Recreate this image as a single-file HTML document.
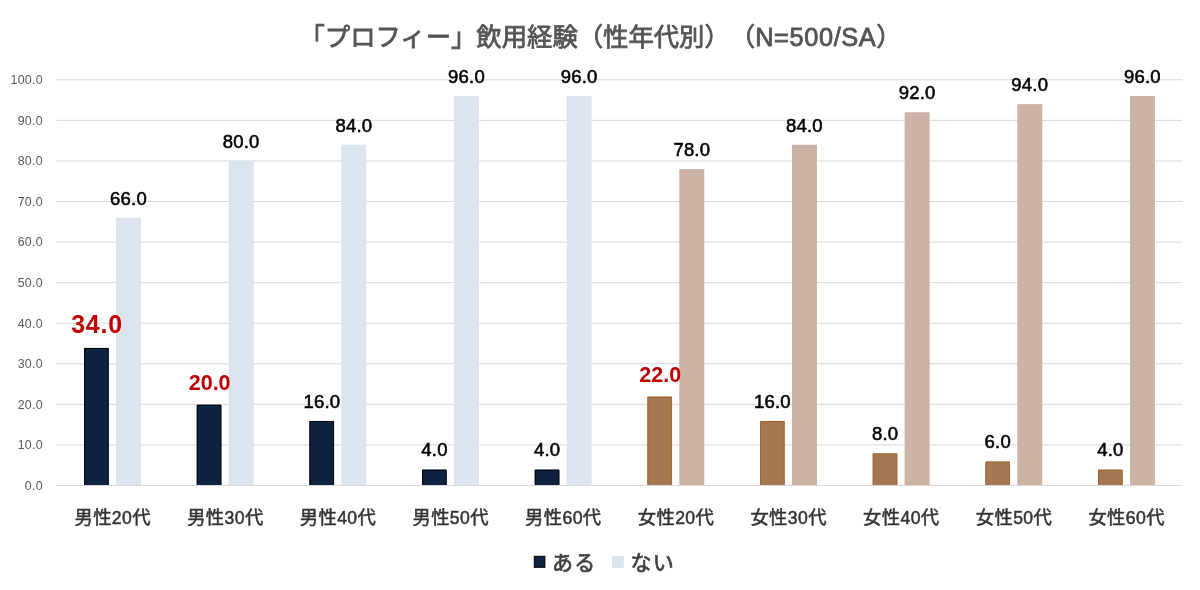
<!DOCTYPE html>
<html lang="ja">
<head>
<meta charset="utf-8">
<title>「プロフィー」飲用経験（性年代別）</title>
<style>
html,body{margin:0;padding:0;background:#fff;}
body{width:1200px;height:590px;overflow:hidden;}
svg{display:block;}
text{font-family:"Liberation Sans","Noto Sans CJK JP",sans-serif;}
.title{font-size:25.35px;fill:#545454;stroke:#545454;stroke-width:.8px;text-spacing-trim:space-all;}
.ax{font-size:12.4px;fill:#595959;text-anchor:end;letter-spacing:.25px;}
.cat{font-size:18.3px;fill:#333;stroke:#333;stroke-width:.5px;text-anchor:middle;letter-spacing:.4px;}
.dl{font-size:18.5px;fill:#000;text-anchor:middle;stroke:#000;stroke-width:.55px;letter-spacing:.2px;}
.r1{font-size:24.9px;font-weight:700;fill:#c00000;text-anchor:middle;letter-spacing:.8px;}
.r2{font-size:21.5px;font-weight:700;fill:#c00000;text-anchor:middle;}
.lg{font-size:21px;fill:#404040;stroke:#404040;stroke-width:.7px;letter-spacing:1.4px;}
</style>
</head>
<body>
<svg width="1200" height="590" viewBox="0 0 1200 590">
<rect width="1200" height="590" fill="#ffffff"/>
<text class="title" x="600.6" y="45.7" text-anchor="middle">「プロフィー」飲用経験（性年代別）（<tspan letter-spacing="0.62">N=500/SA</tspan>）</text>
<g stroke="#d9d9d9" stroke-width="1">
<line x1="56.1" y1="485.50" x2="1182.2" y2="485.50"/>
<line x1="56.1" y1="444.93" x2="1182.2" y2="444.93"/>
<line x1="56.1" y1="404.36" x2="1182.2" y2="404.36"/>
<line x1="56.1" y1="363.79" x2="1182.2" y2="363.79"/>
<line x1="56.1" y1="323.22" x2="1182.2" y2="323.22"/>
<line x1="56.1" y1="282.65" x2="1182.2" y2="282.65"/>
<line x1="56.1" y1="242.08" x2="1182.2" y2="242.08"/>
<line x1="56.1" y1="201.51" x2="1182.2" y2="201.51"/>
<line x1="56.1" y1="160.94" x2="1182.2" y2="160.94"/>
<line x1="56.1" y1="120.37" x2="1182.2" y2="120.37"/>
<line x1="56.1" y1="79.80" x2="1182.2" y2="79.80"/>
</g>
<text class="ax" x="42.8" y="489.80">0.0</text>
<text class="ax" x="42.8" y="449.23">10.0</text>
<text class="ax" x="42.8" y="408.66">20.0</text>
<text class="ax" x="42.8" y="368.09">30.0</text>
<text class="ax" x="42.8" y="327.52">40.0</text>
<text class="ax" x="42.8" y="286.95">50.0</text>
<text class="ax" x="42.8" y="246.38">60.0</text>
<text class="ax" x="42.8" y="205.81">70.0</text>
<text class="ax" x="42.8" y="165.24">80.0</text>
<text class="ax" x="42.8" y="124.67">90.0</text>
<text class="ax" x="42.8" y="84.10">100.0</text>
<rect x="116.00" y="217.74" width="25.0" height="267.26" fill="#dde4ee"/>
<rect x="84.10" y="347.96" width="24.5" height="137.04" fill="#0f2241"/>
<path d="M84.60 485.00V348.46H108.30" fill="none" stroke="#000000" stroke-width="1"/>
<path d="M108.30 348.46V485.00" fill="none" stroke="#000000" stroke-width="0.9"/>
<rect x="228.66" y="160.94" width="25.0" height="324.06" fill="#dde4ee"/>
<rect x="196.76" y="404.76" width="24.5" height="80.24" fill="#0f2241"/>
<path d="M197.26 485.00V405.26H220.96" fill="none" stroke="#000000" stroke-width="1"/>
<path d="M220.96 405.26V485.00" fill="none" stroke="#000000" stroke-width="0.9"/>
<rect x="341.32" y="144.71" width="25.0" height="340.29" fill="#dde4ee"/>
<rect x="309.42" y="420.99" width="24.5" height="64.01" fill="#0f2241"/>
<path d="M309.92 485.00V421.49H333.62" fill="none" stroke="#000000" stroke-width="1"/>
<path d="M333.62 421.49V485.00" fill="none" stroke="#000000" stroke-width="0.9"/>
<rect x="453.98" y="96.03" width="25.0" height="388.97" fill="#dde4ee"/>
<rect x="422.08" y="469.67" width="24.5" height="15.33" fill="#0f2241"/>
<path d="M422.58 485.00V470.17H446.28" fill="none" stroke="#000000" stroke-width="1"/>
<path d="M446.28 470.17V485.00" fill="none" stroke="#000000" stroke-width="0.9"/>
<rect x="566.64" y="96.03" width="25.0" height="388.97" fill="#dde4ee"/>
<rect x="534.74" y="469.67" width="24.5" height="15.33" fill="#0f2241"/>
<path d="M535.24 485.00V470.17H558.94" fill="none" stroke="#000000" stroke-width="1"/>
<path d="M558.94 470.17V485.00" fill="none" stroke="#000000" stroke-width="0.9"/>
<rect x="679.30" y="169.05" width="25.0" height="315.95" fill="#cdb3a5"/>
<rect x="647.40" y="396.65" width="24.5" height="88.35" fill="#a47850"/>
<path d="M647.90 485.00V397.15H671.60" fill="none" stroke="#a2652d" stroke-width="1"/>
<path d="M671.60 397.15V485.00" fill="none" stroke="#a2652d" stroke-width="0.9"/>
<rect x="791.96" y="144.71" width="25.0" height="340.29" fill="#cdb3a5"/>
<rect x="760.06" y="420.99" width="24.5" height="64.01" fill="#a47850"/>
<path d="M760.56 485.00V421.49H784.26" fill="none" stroke="#a2652d" stroke-width="1"/>
<path d="M784.26 421.49V485.00" fill="none" stroke="#a2652d" stroke-width="0.9"/>
<rect x="904.62" y="112.26" width="25.0" height="372.74" fill="#cdb3a5"/>
<rect x="872.72" y="453.44" width="24.5" height="31.56" fill="#a47850"/>
<path d="M873.22 485.00V453.94H896.92" fill="none" stroke="#a2652d" stroke-width="1"/>
<path d="M896.92 453.94V485.00" fill="none" stroke="#a2652d" stroke-width="0.9"/>
<rect x="1017.28" y="104.14" width="25.0" height="380.86" fill="#cdb3a5"/>
<rect x="985.38" y="461.56" width="24.5" height="23.44" fill="#a47850"/>
<path d="M985.88 485.00V462.06H1009.58" fill="none" stroke="#a2652d" stroke-width="1"/>
<path d="M1009.58 462.06V485.00" fill="none" stroke="#a2652d" stroke-width="0.9"/>
<rect x="1129.94" y="96.03" width="25.0" height="388.97" fill="#cdb3a5"/>
<rect x="1098.04" y="469.67" width="24.5" height="15.33" fill="#a47850"/>
<path d="M1098.54 485.00V470.17H1122.24" fill="none" stroke="#a2652d" stroke-width="1"/>
<path d="M1122.24 470.17V485.00" fill="none" stroke="#a2652d" stroke-width="0.9"/>
<text class="dl" x="128.50" y="204.94">66.0</text>
<text class="r1" x="97.00" y="333.36">34.0</text>
<text class="dl" x="241.16" y="148.14">80.0</text>
<text class="r2" x="209.66" y="389.86">20.0</text>
<text class="dl" x="353.82" y="131.91">84.0</text>
<text class="dl" x="321.82" y="407.79">16.0</text>
<text class="dl" x="466.48" y="83.23">96.0</text>
<text class="dl" x="434.48" y="456.47">4.0</text>
<text class="dl" x="579.14" y="83.23">96.0</text>
<text class="dl" x="547.14" y="456.47">4.0</text>
<text class="dl" x="691.80" y="156.25">78.0</text>
<text class="r2" x="660.30" y="381.75">22.0</text>
<text class="dl" x="804.46" y="131.91">84.0</text>
<text class="dl" x="772.46" y="407.79">16.0</text>
<text class="dl" x="917.12" y="99.46">92.0</text>
<text class="dl" x="885.12" y="440.24">8.0</text>
<text class="dl" x="1029.78" y="91.34">94.0</text>
<text class="dl" x="997.78" y="448.36">6.0</text>
<text class="dl" x="1142.44" y="83.23">96.0</text>
<text class="dl" x="1110.44" y="456.47">4.0</text>
<text class="cat" x="112.70" y="523.6">男性<tspan font-size="17.6">20</tspan>代</text>
<text class="cat" x="225.36" y="523.6">男性<tspan font-size="17.6">30</tspan>代</text>
<text class="cat" x="338.02" y="523.6">男性<tspan font-size="17.6">40</tspan>代</text>
<text class="cat" x="450.68" y="523.6">男性<tspan font-size="17.6">50</tspan>代</text>
<text class="cat" x="563.34" y="523.6">男性<tspan font-size="17.6">60</tspan>代</text>
<text class="cat" x="676.00" y="523.6">女性<tspan font-size="17.6">20</tspan>代</text>
<text class="cat" x="788.66" y="523.6">女性<tspan font-size="17.6">30</tspan>代</text>
<text class="cat" x="901.32" y="523.6">女性<tspan font-size="17.6">40</tspan>代</text>
<text class="cat" x="1013.98" y="523.6">女性<tspan font-size="17.6">50</tspan>代</text>
<text class="cat" x="1126.64" y="523.6">女性<tspan font-size="17.6">60</tspan>代</text>
<rect x="534.3" y="556.3" width="10.6" height="11" fill="#0f2241" stroke="#000" stroke-width="1"/>
<text class="lg" x="551.9" y="569.5">ある</text>
<rect x="612" y="556" width="11.8" height="12" fill="#dde4ee"/>
<text class="lg" x="630.4" y="569.5">ない</text>
</svg>
</body>
</html>
